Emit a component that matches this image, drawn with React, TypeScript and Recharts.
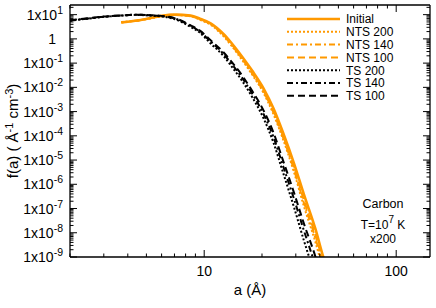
import React from "react";
import { LineChart, Line, XAxis, YAxis } from "recharts";

// grain radius a (Å)
const aVals = [2, 2.5, 3, 3.7, 4.4, 5.2, 6, 7, 8.5, 9.5, 10.8, 12.6, 13.8, 15.8, 17.8, 20.4, 23, 25.7, 29.5, 33, 38, 41.7, 46];

// f(a) per run, null where a curve is absent
const initial = [null, null, null, 4.8, 5.6, 7.1, 8.9, 10, 9.1, 6.8, 4.4, 1.6, 0.71, 0.18, 0.048, 8.9e-3, 1.3e-3, 1.4e-4, 6.5e-6, 4e-7, 1.4e-8, 1e-9, 1e-10];
const nts200 = [null, null, null, 4.8, 5.6, 7.0, 8.7, 9.7, 8.6, 6.2, 3.8, 1.3, 0.55, 0.13, 0.033, 5.8e-3, 7.5e-4, 7.5e-5, 2.8e-6, 1.3e-7, 4e-9, 2.8e-10, null];
const nts140 = [null, null, null, 4.8, 5.6, 7.0, 8.8, 9.8, 8.8, 6.4, 4.0, 1.4, 0.6, 0.145, 0.037, 6.5e-3, 8.8e-4, 9e-5, 3.5e-6, 1.8e-7, 5.8e-9, 4e-10, null];
const nts100 = [null, null, null, 4.8, 5.6, 7.1, 8.8, 9.9, 8.9, 6.6, 4.2, 1.5, 0.64, 0.16, 0.041, 7.3e-3, 1.0e-3, 1.05e-4, 4.4e-6, 2.3e-7, 7.8e-9, 6e-10, null];
const ts200 = [5.6, 6.9, 8.1, 9.1, 9.8, 9.2, 8.4, 6.6, 3.1, 1.8, 0.65, 0.2, 0.078, 0.018, 3.9e-3, 5.2e-4, 5e-5, 3.2e-6, 1e-7, 5e-9, 1.6e-10, null, null];
const ts140 = [5.7, 7.0, 8.2, 9.2, 9.9, 9.4, 8.7, 7.0, 3.4, 2.0, 0.78, 0.24, 0.1, 0.024, 5.4e-3, 7.8e-4, 8.5e-5, 6e-6, 2.2e-7, 1.3e-8, 4.5e-10, null, null];
const ts100 = [5.8, 7.1, 8.3, 9.3, 10, 9.5, 8.9, 7.2, 3.6, 2.2, 0.87, 0.28, 0.12, 0.03, 7e-3, 1.1e-3, 1.3e-4, 1e-5, 4e-7, 2.5e-8, 1e-9, 8e-11, null];

const decadesY = [1e-9, 1e-8, 1e-7, 1e-6, 1e-5, 1e-4, 1e-3, 1e-2, 1e-1, 1, 10];
const decadesX = [1, 10, 100];
const xLabels = [10, 100];

const yTicks: number[] = [];
decadesY.forEach((d) => [1, 2, 3, 4, 5, 6, 7, 8, 9].forEach((m) => { if (m * d <= 25) yTicks.push(m * d); }));
const xTicks: number[] = [];
decadesX.forEach((d) => [1, 2, 3, 4, 5, 6, 7, 8, 9].forEach((m) => { if (m * d >= 2 && m * d <= 150) xTicks.push(m * d); }));

const ORANGE = "#ff9900";
const series = [
  { key: "initial", name: "Initial", vals: initial, color: ORANGE, dash: undefined, w: 2.6 },
  { key: "nts200", name: "NTS 200", vals: nts200, color: ORANGE, dash: "2 2", w: 2 },
  { key: "nts140", name: "NTS 140", vals: nts140, color: ORANGE, dash: "6 3 2 3", w: 2 },
  { key: "nts100", name: "NTS 100", vals: nts100, color: ORANGE, dash: "7 4", w: 2 },
  { key: "ts200", name: "TS 200", vals: ts200, color: "#000", dash: "2 2", w: 2 },
  { key: "ts140", name: "TS 140", vals: ts140, color: "#000", dash: "6 3 2 3", w: 2 },
  { key: "ts100", name: "TS 100", vals: ts100, color: "#000", dash: "7 4", w: 2 },
];

const rows = aVals.map((a, i) => {
  const r: any = { a };
  series.forEach((s) => { r[s.key] = s.vals[i]; });
  return r;
});

const FONT = "'Liberation Sans', Arial, sans-serif";
const isDecade = (v: number) => Math.abs(Math.log10(v) - Math.round(Math.log10(v))) < 1e-6;

const YTick = (props: any) => {
  const { x, y, payload, side } = props;
  const v = payload.value;
  const major = isDecade(v);
  const e = Math.round(Math.log10(v));
  const dir = side === "left" ? 1 : -1;
  const len = major ? 7 : 3.5;
  return (
    <g>
      <line x1={x} x2={x + dir * len} y1={y} y2={y} stroke="#000" strokeWidth={1} />
      {side === "left" && major && (
        <text x={e === 0 ? 56 : 63} y={y} dy={5} textAnchor="end" fontSize={14} fontFamily={FONT} fill="#000">
          {e === 0 ? "1" : <><tspan>1x10</tspan><tspan dy={-6} fontSize={10.5}>{e}</tspan></>}
        </text>
      )}
    </g>
  );
};

const XTick = (props: any) => {
  const { x, y, payload, side } = props;
  const v = payload.value;
  const major = isDecade(v);
  const dir = side === "bottom" ? -1 : 1;
  const len = major ? 7 : 3.5;
  return (
    <g>
      <line x1={x} x2={x} y1={y} y2={y + dir * len} stroke="#000" strokeWidth={1} />
      {side === "bottom" && xLabels.includes(v) && (
        <text x={x} y={y + 19} textAnchor="middle" fontSize={14} fontFamily={FONT} fill="#000">{v}</text>
      )}
    </g>
  );
};

const axisLine = { stroke: "#000", strokeWidth: 1.3 };

export default function App() {
  return (
    <div style={{ position: "absolute", left: 0, top: 0, width: 436, height: 308, background: "#fff" }}>
      <LineChart width={436} height={308} data={rows} margin={{ top: 0, right: 0, bottom: 0, left: 0 }}>
        <XAxis dataKey="a" type="number" scale="log" domain={[2, 150]} allowDataOverflow ticks={xTicks} interval={0}
          height={51} tickSize={0} tickMargin={0} axisLine={axisLine} tickLine={false}
          tick={(p: any) => <XTick {...p} side="bottom" />} />
        <XAxis xAxisId="t" orientation="top" dataKey="a" type="number" scale="log" domain={[2, 150]} allowDataOverflow ticks={xTicks} interval={0}
          height={5} tickSize={0} tickMargin={0} axisLine={axisLine} tickLine={false}
          tick={(p: any) => <XTick {...p} side="top" />} />
        <YAxis type="number" scale="log" domain={[1e-9, 25]} allowDataOverflow ticks={yTicks} interval={0}
          width={70} tickSize={0} tickMargin={0} axisLine={axisLine} tickLine={false}
          tick={(p: any) => <YTick {...p} side="left" />} />
        <YAxis yAxisId="r" orientation="right" type="number" scale="log" domain={[1e-9, 25]} allowDataOverflow ticks={yTicks} interval={0}
          width={6} tickSize={0} tickMargin={0} axisLine={axisLine} tickLine={false}
          tick={(p: any) => <YTick {...p} side="right" />} />
        {series.map((s) => (
          <Line key={s.key} dataKey={s.key} type="monotone" stroke={s.color} strokeWidth={s.w}
            strokeDasharray={s.dash} dot={false} isAnimationActive={false} />
        ))}
      </LineChart>
      <svg width={436} height={308} style={{ position: "absolute", left: 0, top: 0, pointerEvents: "none" }} fontFamily={FONT}>
        {series.map((s, i) => (
          <g key={s.key}>
            <line x1={287} x2={340} y1={19 + i * 12.8} y2={19 + i * 12.8} stroke={s.color} strokeWidth={s.w} strokeDasharray={s.dash} />
            <text x={346} y={19 + i * 12.8 + 4.3} fontSize={12} fill="#000">{s.name}</text>
          </g>
        ))}
        <text x={250} y={295} textAnchor="middle" fontSize={15} fill="#000">a (Å)</text>
        <text transform="translate(18,131) rotate(-90)" textAnchor="middle" fontSize={15} fill="#000">
          <tspan>f(a) ( Å</tspan><tspan dy={-5} fontSize={11}>-1</tspan><tspan dy={5}> cm</tspan><tspan dy={-5} fontSize={11}>-3</tspan><tspan dy={5}>)</tspan>
        </text>
        <text x={383} y={208} textAnchor="middle" fontSize={12.5} fill="#000">Carbon</text>
        <text x={383} y={229} textAnchor="middle" fontSize={12} fill="#000">
          <tspan>T=10</tspan><tspan dy={-6} fontSize={10}>7</tspan><tspan dy={6}> K</tspan>
        </text>
        <text x={383} y={243} textAnchor="middle" fontSize={12} fill="#000">x200</text>
      </svg>
    </div>
  );
}
